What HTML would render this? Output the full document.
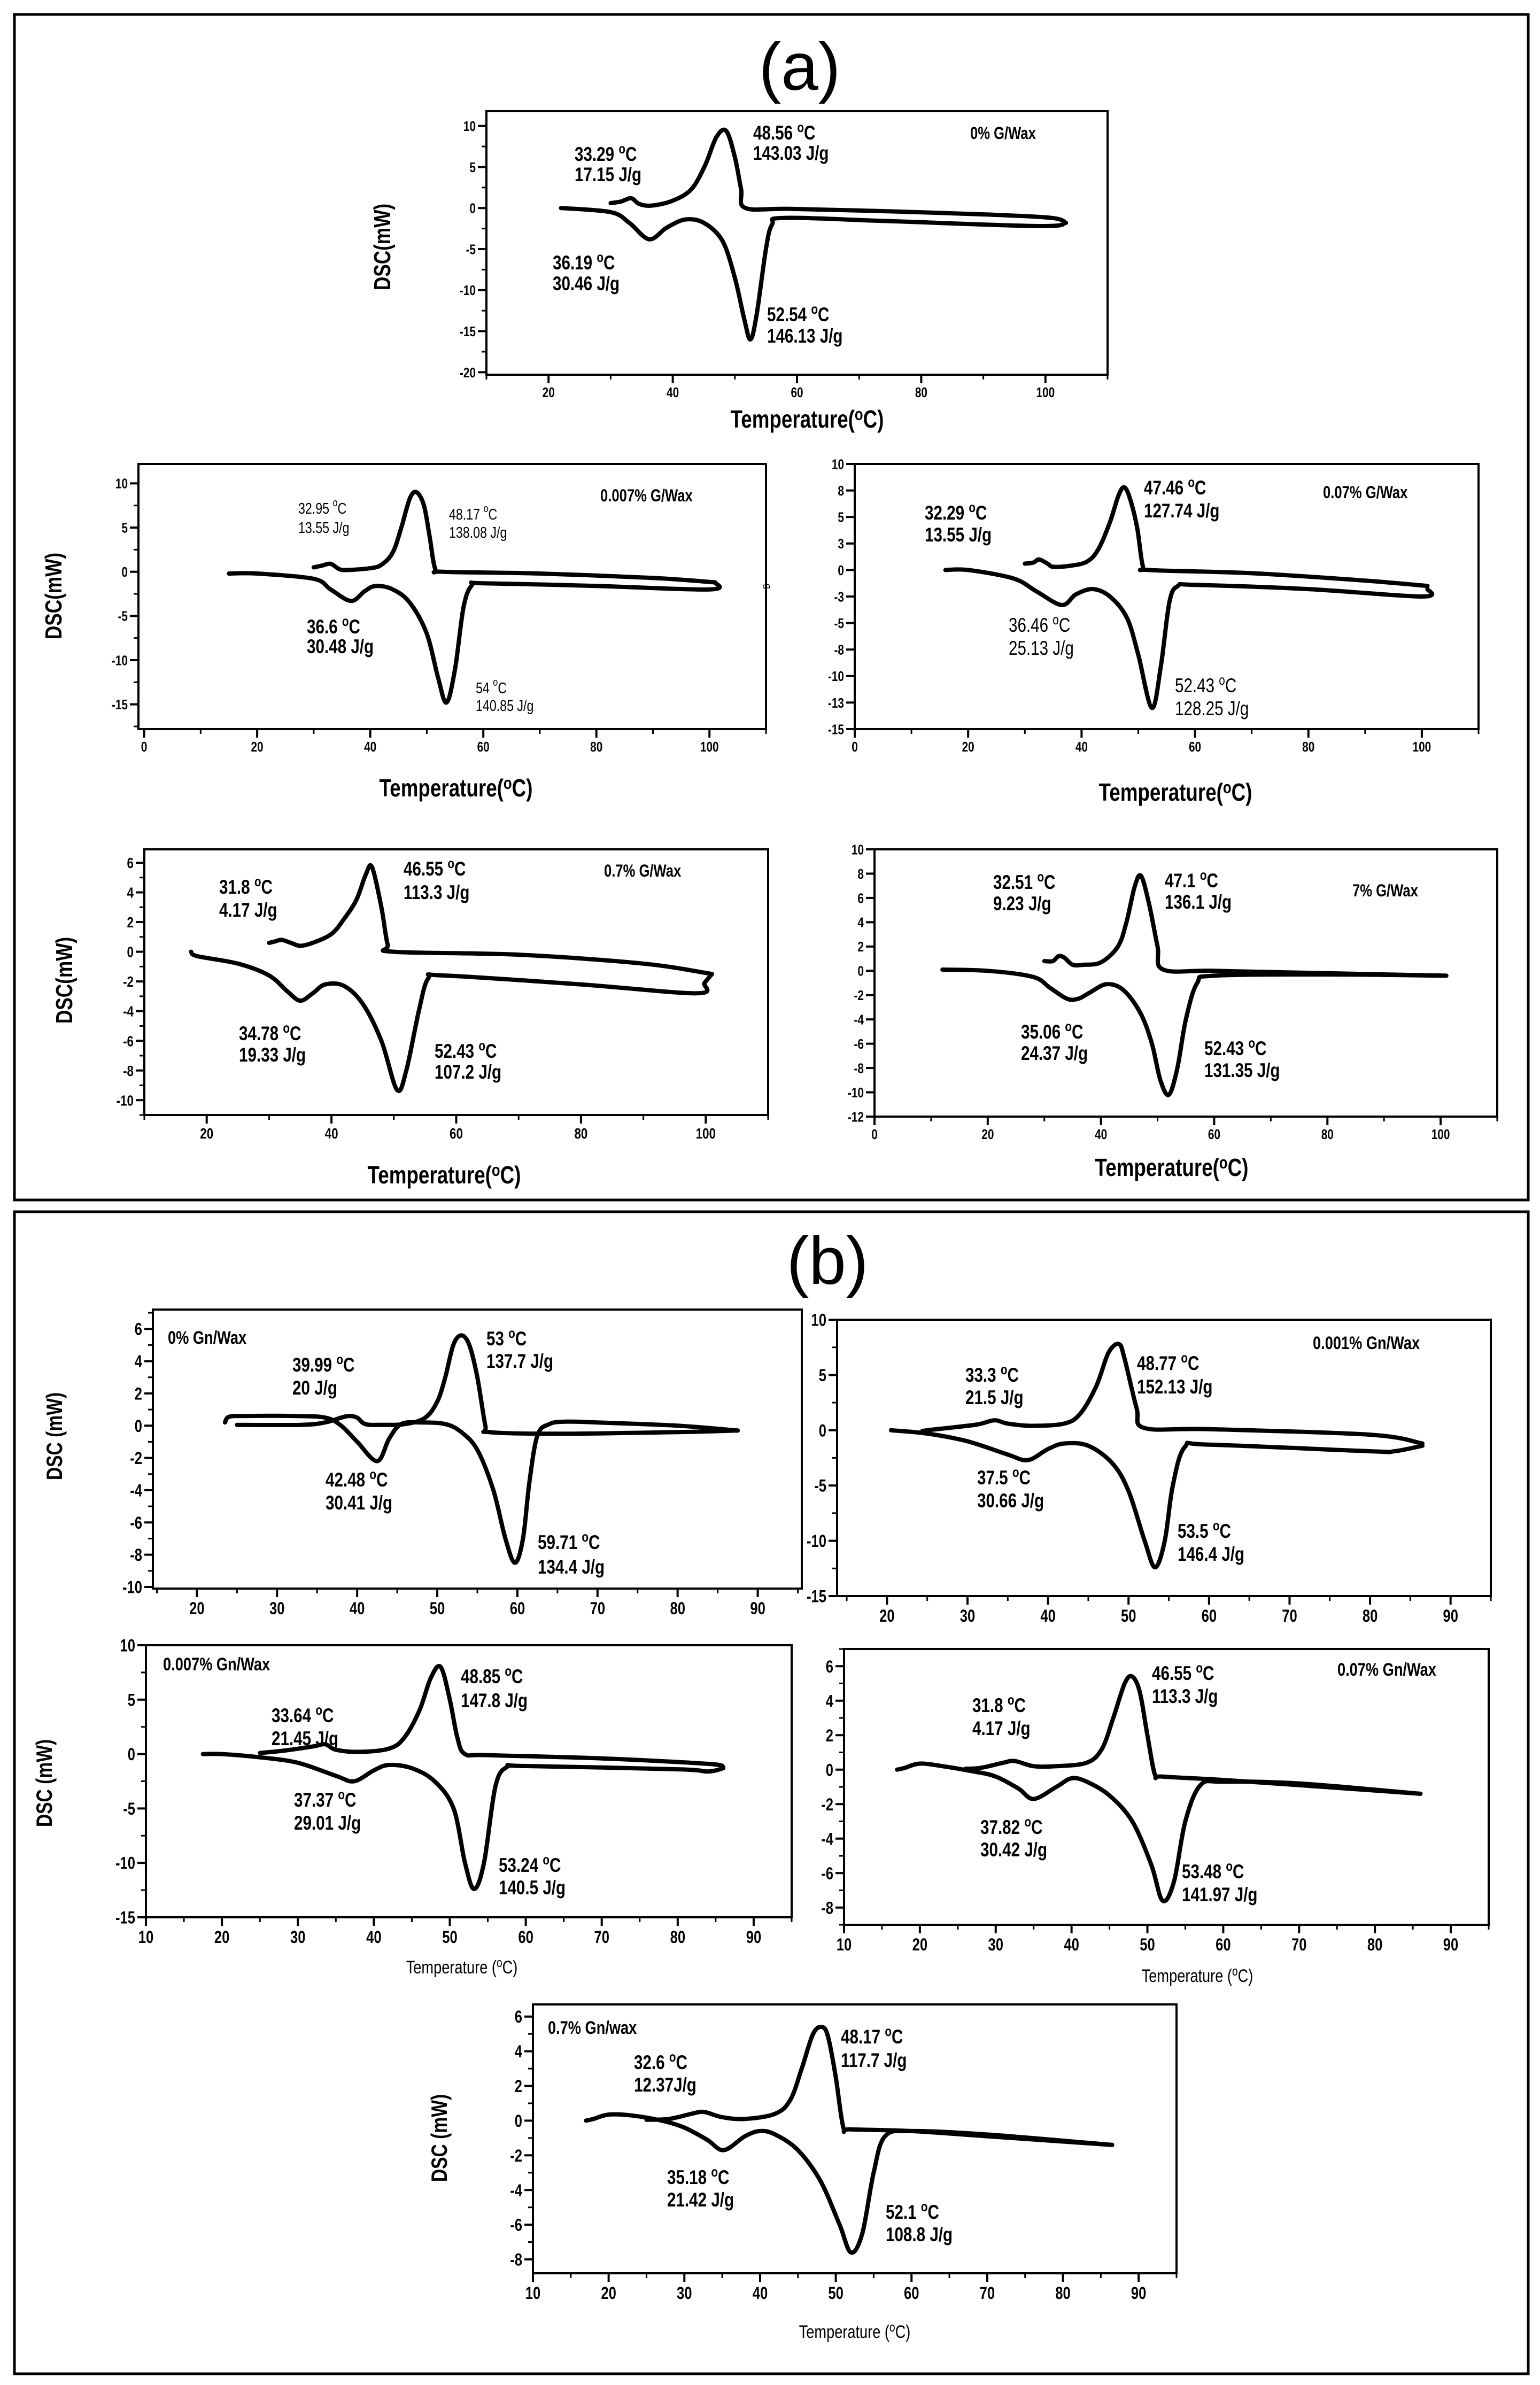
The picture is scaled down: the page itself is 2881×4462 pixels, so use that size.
<!DOCTYPE html>
<html><head><meta charset="utf-8">
<style>
html,body{margin:0;padding:0;background:#fff;}
svg{display:block;}
text{font-family:"Liberation Sans",sans-serif;fill:#000;}
</style></head>
<body>
<svg id="fig" xmlns="http://www.w3.org/2000/svg" width="2881" height="4462" viewBox="0 0 2881 4462">
<rect x="0" y="0" width="2881" height="4462" fill="#fff"/>
<rect x="27" y="27" width="2832" height="2218" fill="none" stroke="#000" stroke-width="5"/>
<rect x="27" y="2267" width="2832" height="2174" fill="none" stroke="#000" stroke-width="5"/>
<text class="nonarrow" x="1496" y="168" font-size="125" text-anchor="middle">(a)</text>
<text class="nonarrow" x="1548" y="2402" font-size="125" text-anchor="middle">(b)</text>
<g id="plots"></g>
</svg>
<script>
// ---- data (temperature °C, DSC mW) ----
const a1HeatT=[22,30,33,36.2,39,42,45,48,50,51.5,52.5,53.5,55,56,58,75,99,103.3];
const a1HeatV=[0,-0.5,-1.8,-3.8,-2.4,-1.4,-1.8,-4,-8.5,-13.5,-16,-13,-5,-2,-1.2,-1.6,-2.2,-1.8];
const a1CoolT=[103.3,101,91,75,59,51.7,51,50,48.6,47,45.2,43,40,36.6,34.6,33.3,31.7,30];
const a1CoolV=[-1.8,-1.2,-0.8,-0.4,-0.1,0,2.3,6.2,9.4,8.6,5.2,2.3,0.9,0.3,0.5,1.2,0.8,0.6];

const a2HeatT=[15,20,30,33,36.6,39,41,44,47,50,52,53.5,55,56.5,58,60,80,100,101];
const a2HeatV=[-0.2,-0.2,-0.8,-2,-3.3,-2.2,-1.6,-2,-3.5,-7,-12,-14.8,-11,-4,-1.5,-1.3,-1.6,-2,-1.2];
const a2CoolT=[101,90,70,53,51.5,50.5,49.5,48.2,47,45.5,44,42,40,36,34.5,33,31.5,30];
const a2CoolV=[-1.2,-0.7,-0.2,0,0.3,4,7.5,9,8.3,5,2.2,0.8,0.4,0.2,0.3,0.9,0.7,0.5];

const a3HeatT=[16,20,28,32,36.5,39,42,45,48,50,52.4,54,55.5,57,60,80,100,101];
const a3HeatV=[0,0,-0.8,-2,-3.3,-2.3,-1.8,-2.5,-4.5,-8,-13,-9,-3,-1.5,-1.4,-1.8,-2.5,-1.8];
const a3CoolT=[101,90,70,52,50.8,49.8,48.5,47.5,46.5,45,43,41,38,35,34,32.5,31.5,30];
const a3CoolV=[-1.5,-1,-0.3,0,0.4,4,6.8,7.8,7,4.5,2,0.8,0.4,0.3,0.6,1.0,0.7,0.6];

const a4HeatT=[17.5,18.5,25,30,33,35,37,39,42,45,48,50.5,52,54,55.5,58,80,98.5,99.8,101];
const a4HeatV=[0,-0.3,-0.8,-1.6,-2.7,-3.3,-2.8,-2.2,-2.3,-3.5,-6,-9.3,-8,-4,-1.8,-1.6,-2.2,-2.8,-2.1,-1.5];
const a4CoolT=[101,90,70,50,49,48,46.5,45.5,44,42,40,37,35,33.5,32,31,30];
const a4CoolV=[-1.5,-0.8,-0.2,0,0.5,3,5.7,5.2,3.5,2.2,1.2,0.6,0.4,0.6,0.8,0.7,0.6];

const a5HeatT=[12,20,28,31,34,36,38,41,44,47,49,50.5,52,53.5,55,57,60,80,101];
const a5HeatV=[0.1,0,-0.5,-1.4,-2.3,-2.3,-1.8,-1.1,-1.6,-3.5,-6,-9,-10.2,-8,-4,-1,-0.4,-0.3,-0.4];
const a5CoolT=[101,80,60,51,50,48.5,47.1,46,44.5,43,40,37,35,33.5,32.5,31.5,30];
const a5CoolV=[-0.4,-0.2,0,0.1,2,5.5,7.8,7,4,2,0.7,0.5,0.5,1.1,1.2,0.8,0.8];

const b1HeatT=[23.5,24,26,32,36,38,40,42.5,44,45.5,48,51,53,55,57,58.5,59.7,60.7,61.5,62.5,64,66,70,80,87.5];
const b1HeatV=[0.2,0.55,0.6,0.6,0.5,0,-1,-2.2,-0.8,0.1,0.2,0.1,-0.4,-1.5,-4,-7,-8.5,-7,-3.5,-0.6,0.1,0.25,0.2,0,-0.3];
const b1CoolT=[87.5,80,65,56.5,56,55,54,53,52,51,50,48.5,46,43,41,40,39,38,36,33,25];
const b1CoolV=[-0.3,-0.4,-0.5,-0.4,0,3,5,5.6,5,3,1.5,0.5,0.1,0.05,0.1,0.5,0.6,0.5,0.2,0.05,0.05];

const b2HeatT=[20.5,25,30,35,37.5,40,42,45,48,50,52,53.3,54.5,55.5,57,60,80,83,86.5];
const b2HeatV=[0,-0.3,-1,-2.2,-2.7,-1.7,-1.2,-1.4,-3,-5.5,-10,-12.4,-10,-5,-1.5,-1.3,-1.9,-1.9,-1.4];
const b2CoolT=[86.5,80,60,52,51,49.5,48.8,47.5,46,44,42,38,35,33.3,31,25,24.5];
const b2CoolV=[-1.2,-0.4,0.1,0.2,2,6.5,7.8,7,4,1.5,0.6,0.4,0.6,0.9,0.5,0,-0.1];

const b3HeatT=[17.5,20,25,30,35,37.4,40,42,45,48,50.5,52,53.2,54.5,56,57.5,60,80,84,86];
const b3HeatV=[0,0,-0.3,-0.8,-2,-2.5,-1.5,-1,-1.3,-2.5,-5,-10,-12.4,-10,-3,-1.2,-1.1,-1.4,-1.6,-1.3];
const b3CoolT=[86,84,70,55,52,51,50,48.8,47.5,46,44,42,38,35,33.6,32,28,25];
const b3CoolV=[-1.2,-0.9,-0.4,-0.1,0,1.5,5,8,7,4,1.5,0.5,0.2,0.4,0.9,0.7,0.3,0.1];

const b4HeatT=[17,18,20,23,27,30,33,35,38,40,42,45,48,50.5,52,53.5,55,57,60,70,86];
const b4HeatV=[0,0.1,0.35,0.2,-0.1,-0.4,-1.1,-1.7,-1,-0.5,-0.7,-1.5,-3,-5.5,-7.6,-6.5,-3,-0.9,-0.7,-0.8,-1.4];
const b4CoolT=[86,70,60,52,51,50,49,48,47,45.5,44,42,38,35,32.5,31,28,26];
const b4CoolV=[-1.4,-0.9,-0.6,-0.4,-0.3,2,4.5,5.4,5,3,1.2,0.4,0.2,0.2,0.5,0.4,0.1,0.05];

const b5HeatT=[17,18,20,23,27,30,33,35.2,38,40,42,45,48,50.5,52,53.5,55,56.5,60,70,86.5];
const b5HeatV=[0,0.1,0.35,0.3,0,-0.4,-1.1,-1.7,-0.9,-0.6,-0.8,-1.7,-3.5,-6,-7.6,-6.5,-3,-0.9,-0.6,-0.8,-1.4];
const b5CoolT=[86.5,70,60,52,51,50,49,48.2,47,45.5,44,42,38,35,32.6,31,28,25];
const b5CoolV=[-1.4,-0.9,-0.6,-0.5,-0.4,2.5,4.8,5.4,5,3,1.2,0.4,0.1,0.2,0.5,0.4,0.1,0.05];

// tick arrays
const a1XTicks=[20,40,60,80,100]; const a1YTicks=[10,5,0,-5,-10,-15,-20];
const a2XTicks=[0,20,40,60,80,100]; const a2YTicks=[10,5,0,-5,-10,-15];
const a3XTicks=[0,20,40,60,80,100]; const a3YTicks=[10,7.5,5,2.5,0,-2.5,-5,-7.5,-10,-12.5,-15];
const a3YLabels=["10","8","5","3","0","-3","-5","-8","-10","-13","-15"];
const a4XTicks=[20,40,60,80,100]; const a4YTicks=[6,4,2,0,-2,-4,-6,-8,-10];
const a5XTicks=[0,20,40,60,80,100]; const a5YTicks=[10,8,6,4,2,0,-2,-4,-6,-8,-10,-12];
const b1XTicks=[20,30,40,50,60,70,80,90]; const b1YTicks=[6,4,2,0,-2,-4,-6,-8,-10];
const b2XTicks=[20,30,40,50,60,70,80,90]; const b2YTicks=[10,5,0,-5,-10,-15];
const b3XTicks=[10,20,30,40,50,60,70,80,90]; const b3YTicks=[10,5,0,-5,-10,-15];
const b4XTicks=[10,20,30,40,50,60,70,80,90]; const b4YTicks=[6,4,2,0,-2,-4,-6,-8];
const b5XTicks=[10,20,30,40,50,60,70,80,90]; const b5YTicks=[6,4,2,0,-2,-4,-6,-8];

const NS="http://www.w3.org/2000/svg";
const root=document.getElementById('plots');
function mk(tag,attrs,parent){const e=document.createElementNS(NS,tag);for(const k in attrs)e.setAttribute(k,attrs[k]);(parent||root).appendChild(e);return e;}

function smoothPath(pts){
  let d="M"+pts[0][0].toFixed(1)+","+pts[0][1].toFixed(1);
  for(let i=0;i<pts.length-1;i++){
    const p0=pts[Math.max(0,i-1)],p1=pts[i],p2=pts[i+1],p3=pts[Math.min(pts.length-1,i+2)];
    const c1x=p1[0]+(p2[0]-p0[0])/6,c1y=p1[1]+(p2[1]-p0[1])/6;
    const c2x=p2[0]-(p3[0]-p1[0])/6,c2y=p2[1]-(p3[1]-p1[1])/6;
    d+=" C"+c1x.toFixed(1)+","+c1y.toFixed(1)+" "+c2x.toFixed(1)+","+c2y.toFixed(1)+" "+p2[0].toFixed(1)+","+p2[1].toFixed(1);
  }
  return d;
}

function chart(c){
  const g=mk('g',{});
  
  
  const sx=t=>c.L+(t-c.x0)/(c.x1-c.x0)*(c.R-c.L);
  const sy=v=>c.T+(c.y1-v)/(c.y1-c.y0)*(c.B-c.T);
  const fr=mk('rect',{x:c.L,y:c.T,width:c.R-c.L,height:c.B-c.T,fill:'none',stroke:'#000','stroke-width':4},g);
  
  
  const xs=c.xt;
  for(let i=0;i<xs.length;i++){
    const x=sx(xs[i]);
    const tk=mk('line',{x1:x,y1:c.B,x2:x,y2:c.B+16,stroke:'#000','stroke-width':4},g);
    
    
    const tl=mk('text',{x:x,y:c.B+16+c.tf,'font-size':c.tf,'font-weight':'bold','text-anchor':'middle'},g);
    
    
    tl.textContent=xs[i];
  }
  const step=(xs[1]-xs[0])/2;
  for(let t=xs[0]-step;t<=c.x1;t+=step){
    if(t<c.x0)continue;
    const x=sx(t);
    const mt=mk('line',{x1:x,y1:c.B,x2:x,y2:c.B+9,stroke:'#000','stroke-width':3},g);
    
    
  }
  const ys=c.yt;
  for(let i=0;i<ys.length;i++){
    const y=sy(ys[i]);
    const tk=mk('line',{x1:c.L-16,y1:y,x2:c.L,y2:y,stroke:'#000','stroke-width':4},g);
    
    
    const tl=mk('text',{x:c.L-20,y:y+c.tf*0.36,'font-size':c.tf,'font-weight':'bold','text-anchor':'end'},g);
    
    
    tl.textContent=c.yl?c.yl[i]:ys[i];
  }
  if(c.yminor){
    const ystep=Math.abs(ys[0]-ys[1])/2;
    for(let v=ys[ys.length-1]-ystep;v<=c.y1;v+=ystep){
      if(v<c.y0)continue;
      const y=sy(v);
      const mt=mk('line',{x1:c.L-9,y1:y,x2:c.L,y2:y,stroke:'#000','stroke-width':3},g);
      
      
    }
  }
  const hp=c.hT.map((t,i)=>[sx(t),sy(c.hV[i])]);
  const cp=c.cT.map((t,i)=>[sx(t),sy(c.cV[i])]);
  const h=mk('path',{d:smoothPath(hp),fill:'none',stroke:'#000','stroke-width':8,'stroke-linejoin':'round','stroke-linecap':'round'},g);
  
  
  const cc=mk('path',{d:smoothPath(cp),fill:'none',stroke:'#000','stroke-width':8,'stroke-linejoin':'round','stroke-linecap':'round'},g);
  
  
  return g;
}

function label(x,y,html,size,weight,name,anchor,rot,fill){
  const t=mk('text',{x:x,y:y,'font-size':size,'font-weight':weight||'bold','text-anchor':anchor||'start'});
  if(rot)t.setAttribute('transform','rotate(-90 '+x+' '+y+')');
  if(fill)t.setAttribute('fill',fill);
  
  
  t.innerHTML=html;
  return t;
}
const deg=(n)=>n+' <tspan dy="-14" font-size="70%">o</tspan><tspan dy="14">C</tspan>';
function ann(x,y1,y2,temp,enth,size,weight,name,fill){
  label(x,y1+size*0.35,deg(temp),size,weight,name+'-temp',null,null,fill);
  label(x,y2+size*0.35,enth,size,weight,name+'-enthalpy',null,null,fill);
}

// ---- panel (a) charts ----
chart({name:'chart-a-0pct',L:910,R:2072,T:208,B:701,x0:10,x1:110,y0:-20.3,y1:11.8,xt:a1XTicks,yt:a1YTicks,tf:26,yminor:true,hT:a1HeatT,hV:a1HeatV,cT:a1CoolT,cV:a1CoolV});
chart({name:'chart-a-0007pct',L:259,R:1433,T:868,B:1364,x0:-1,x1:110,y0:-17.8,y1:12.2,xt:a2XTicks,yt:a2YTicks,tf:26,yminor:true,hT:a2HeatT,hV:a2HeatV,cT:a2CoolT,cV:a2CoolV});
chart({name:'chart-a-007pct',L:1599,R:2766,T:868,B:1364,x0:0,x1:110,y0:-15,y1:10,xt:a3XTicks,yt:a3YTicks,yl:a3YLabels,tf:26,yminor:false,hT:a3HeatT,hV:a3HeatV,cT:a3CoolT,cV:a3CoolV});
chart({name:'chart-a-07pct',L:270,R:1437,T:1589,B:2086,x0:10,x1:110,y0:-11,y1:6.9,xt:a4XTicks,yt:a4YTicks,tf:28,yminor:true,hT:a4HeatT,hV:a4HeatV,cT:a4CoolT,cV:a4CoolV});
chart({name:'chart-a-7pct',L:1636,R:2801,T:1589,B:2089,x0:0,x1:110,y0:-12,y1:10,xt:a5XTicks,yt:a5YTicks,tf:26,yminor:false,hT:a5HeatT,hV:a5HeatV,cT:a5CoolT,cV:a5CoolV});

// ---- panel (b) charts ----
chart({name:'chart-b-0pct',L:286,R:1500,T:2450,B:2972,x0:14.5,x1:95.5,y0:-10.1,y1:7.2,xt:b1XTicks,yt:b1YTicks,tf:32,yminor:true,hT:b1HeatT,hV:b1HeatV,cT:b1CoolT,cV:b1CoolV});
chart({name:'chart-b-0001pct',L:1566,R:2789,T:2469,B:2986,x0:13.8,x1:95,y0:-15,y1:10,xt:b2XTicks,yt:b2YTicks,tf:32,yminor:true,hT:b2HeatT,hV:b2HeatV,cT:b2CoolT,cV:b2CoolV});
chart({name:'chart-b-0007pct',L:273,R:1481,T:3078,B:3587,x0:10,x1:95,y0:-15,y1:10,xt:b3XTicks,yt:b3YTicks,tf:32,yminor:true,hT:b3HeatT,hV:b3HeatV,cT:b3CoolT,cV:b3CoolV});
chart({name:'chart-b-007pct',L:1579,R:2785,T:3085,B:3601,x0:10,x1:95,y0:-9,y1:7,xt:b4XTicks,yt:b4YTicks,tf:32,yminor:true,hT:b4HeatT,hV:b4HeatV,cT:b4CoolT,cV:b4CoolV});
chart({name:'chart-b-07pct',L:997,R:2201,T:3750,B:4253,x0:10,x1:95,y0:-8.8,y1:6.7,xt:b5XTicks,yt:b5YTicks,tf:32,yminor:true,hT:b5HeatT,hV:b5HeatV,cT:b5CoolT,cV:b5CoolV});

// ---- axis titles ----
label(1510,800,'Temperature(<tspan dy="-14" font-size="70%">o</tspan><tspan dy="14">C)</tspan>',46,'bold','x-axis-title-a1','middle');
label(853,1490,'Temperature(<tspan dy="-14" font-size="70%">o</tspan><tspan dy="14">C)</tspan>',46,'bold','x-axis-title-a2','middle');
label(2199,1498,'Temperature(<tspan dy="-14" font-size="70%">o</tspan><tspan dy="14">C)</tspan>',46,'bold','x-axis-title-a3','middle');
label(831,2214,'Temperature(<tspan dy="-14" font-size="70%">o</tspan><tspan dy="14">C)</tspan>',46,'bold','x-axis-title-a4','middle');
label(2192,2200,'Temperature(<tspan dy="-14" font-size="70%">o</tspan><tspan dy="14">C)</tspan>',46,'bold','x-axis-title-a5','middle');
label(864,3692,'Temperature (<tspan dy="-12" font-size="70%">o</tspan><tspan dy="12">C)</tspan>',34,'normal','x-axis-title-b3','middle');
label(2240,3708,'Temperature (<tspan dy="-12" font-size="70%">o</tspan><tspan dy="12">C)</tspan>',34,'normal','x-axis-title-b4','middle');
label(1599,4374,'Temperature (<tspan dy="-12" font-size="70%">o</tspan><tspan dy="12">C)</tspan>',34,'normal','x-axis-title-b5','middle');

label(730,462,'DSC(mW)',44,'bold','y-axis-title-a1','middle',true);
label(115,1115,'DSC(mW)',44,'bold','y-axis-title-a2','middle',true);
label(135,1834,'DSC(mW)',44,'bold','y-axis-title-a4','middle',true);
label(116,2687,'DSC (mW)',42,'bold','y-axis-title-b1','middle',true);
label(97,3336,'DSC (mW)',42,'bold','y-axis-title-b3','middle',true);
label(836,4000,'DSC (mW)',42,'bold','y-axis-title-b5','middle',true);
label(1440,1097,'B',18,'normal','stray-b-mark','middle',true);

// ---- sample labels ----
label(1815,260,'0% G/Wax',32,'bold','sample-label-a1');
label(1123,938,'0.007% G/Wax',32,'bold','sample-label-a2');
label(2475,932,'0.07% G/Wax',32,'bold','sample-label-a3');
label(1130,1640,'0.7% G/Wax',32,'bold','sample-label-a4');
label(2530,1677,'7% G/Wax',32,'bold','sample-label-a5');
label(314,2514,'0% Gn/Wax',34,'bold','sample-label-b1');
label(2456,2524,'0.001% Gn/Wax',34,'bold','sample-label-b2');
label(305,3125,'0.007% Gn/Wax',34,'bold','sample-label-b3');
label(2502,3135,'0.07% Gn/Wax',34,'bold','sample-label-b4');
label(1025,3805,'0.7% Gn/wax',34,'bold','sample-label-b5');

// ---- peak annotations ----
ann(1409,248,286,'48.56','143.03 J/g',37,'bold','ann-a1-cool-main');
ann(1075,288,326,'33.29','17.15 J/g',37,'bold','ann-a1-cool-small');
ann(1034,491,530,'36.19','30.46 J/g',37,'bold','ann-a1-heat-small');
ann(1435,588,628,'52.54','146.13 J/g',37,'bold','ann-a1-heat-main');

ann(558,951,987,'32.95','13.55 J/g',29,'normal','ann-a2-cool-small');
ann(840,962,996,'48.17','138.08 J/g',29,'normal','ann-a2-cool-main');
ann(574,1172,1209,'36.6','30.48 J/g',37,'bold','ann-a2-heat-small');
ann(890,1287,1320,'54','140.85 J/g',29,'normal','ann-a2-heat-main','#444');

ann(2140,912,955,'47.46','127.74 J/g',37,'bold','ann-a3-cool-main');
ann(1730,959,1000,'32.29','13.55 J/g',37,'bold','ann-a3-cool-small');
ann(1887,1169,1212,'36.46','25.13 J/g',37,'normal','ann-a3-heat-small');
ann(2198,1282,1325,'52.43','128.25 J/g',37,'normal','ann-a3-heat-main');

ann(410,1659,1702,'31.8','4.17 J/g',37,'bold','ann-a4-cool-small');
ann(755,1625,1669,'46.55','113.3 J/g',37,'bold','ann-a4-cool-main');
ann(447,1933,1973,'34.78','19.33 J/g',37,'bold','ann-a4-heat-small');
ann(813,1966,2005,'52.43','107.2 J/g',37,'bold','ann-a4-heat-main');

ann(1858,1650,1690,'32.51','9.23 J/g',37,'bold','ann-a5-cool-small');
ann(2179,1647,1687,'47.1','136.1 J/g',37,'bold','ann-a5-cool-main');
ann(1910,1930,1970,'35.06','24.37 J/g',37,'bold','ann-a5-heat-small');
ann(2253,1961,2002,'52.43','131.35 J/g',37,'bold','ann-a5-heat-main');

ann(547,2553,2596,'39.99','20 J/g',37,'bold','ann-b1-cool-small');
ann(910,2504,2546,'53','137.7 J/g',37,'bold','ann-b1-cool-main');
ann(609,2768,2811,'42.48','30.41 J/g',37,'bold','ann-b1-heat-small');
ann(1006,2885,2931,'59.71','134.4 J/g',37,'bold','ann-b1-heat-main');

ann(1806,2572,2614,'33.3','21.5 J/g',37,'bold','ann-b2-cool-small');
ann(2127,2550,2594,'48.77','152.13 J/g',37,'bold','ann-b2-cool-main');
ann(1828,2764,2807,'37.5','30.66 J/g',37,'bold','ann-b2-heat-small');
ann(2203,2864,2907,'53.5','146.4 J/g',37,'bold','ann-b2-heat-main');

ann(508,3209,3252,'33.64','21.45 J/g',37,'bold','ann-b3-cool-small');
ann(862,3136,3181,'48.85','147.8 J/g',37,'bold','ann-b3-cool-main');
ann(550,3367,3410,'37.37','29.01 J/g',37,'bold','ann-b3-heat-small');
ann(933,3489,3531,'53.24','140.5 J/g',37,'bold','ann-b3-heat-main');

ann(1819,3190,3233,'31.8','4.17 J/g',37,'bold','ann-b4-cool-small');
ann(2155,3130,3173,'46.55','113.3 J/g',37,'bold','ann-b4-cool-main');
ann(1834,3418,3460,'37.82','30.42 J/g',37,'bold','ann-b4-heat-small');
ann(2211,3501,3544,'53.48','141.97 J/g',37,'bold','ann-b4-heat-main');

ann(1186,3858,3900,'32.6','12.37J/g',37,'bold','ann-b5-cool-small');
ann(1573,3810,3854,'48.17','117.7 J/g',37,'bold','ann-b5-cool-main');
ann(1248,4073,4115,'35.18','21.42 J/g',37,'bold','ann-b5-heat-small');
ann(1657,4138,4180,'52.1','108.8 J/g',37,'bold','ann-b5-heat-main');

// condense text to mimic narrow font
document.querySelectorAll('#fig text').forEach(t=>{
  if(t.classList.contains('nonarrow'))return;
  const w=t.getComputedTextLength();
  if(w>0){t.setAttribute('textLength',(w*0.8).toFixed(1));t.setAttribute('lengthAdjust','spacingAndGlyphs');}
});
</script>
</body></html>
